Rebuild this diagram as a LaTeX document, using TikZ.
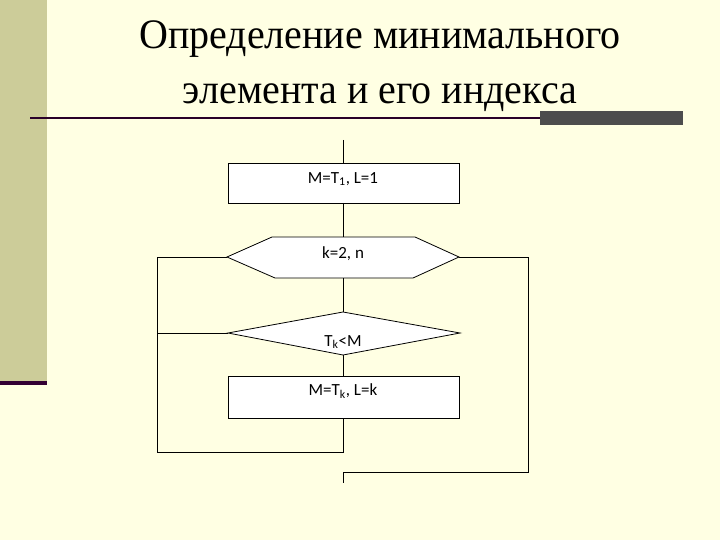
\documentclass[tikz,border=0pt]{standalone}
\usepackage{fontspec}
\setmainfont{Liberation Serif}
\newfontfamily\boxfont{Carlito}
\definecolor{bg}{HTML}{FFFFE3}
\definecolor{olive}{HTML}{CCCC99}
\definecolor{plum}{HTML}{330033}
\definecolor{bargrey}{HTML}{4D4D4D}
\begin{document}
\begin{tikzpicture}[x=1pt,y=-1pt,
  blk/.style={draw,fill=white,line width=0.8pt},
  lbl/.style={font=\boxfont\fontsize{17}{19}\selectfont},
  ln/.style={line width=0.8pt}]
\fill[bg] (0,0) rectangle (720,540);
\useasboundingbox (0,0) rectangle (720,540);
\fill[olive] (0,0) rectangle (47,382);
\fill[plum] (0,381) rectangle (47,385);
\fill[plum!80!black] (30,117) rectangle (540,119.5);
\fill[bargrey] (540,111) rectangle (683,125);
\node[font=\fontsize{40}{52}\selectfont,align=center,yscale=1.05] (title) at (380,66) {Определение минимального\\элемента и его индекса};
% flowchart
\coordinate (top) at (343,140);
\draw[blk] (228,163) rectangle (459,203);
\node[lbl] (b1) at (343,179) {M=T\textsubscript{1}, L=1};
\draw[blk] (227,257) -- (272,237) -- (415,237) -- (459,257) -- (413,278) -- (275,278) -- cycle;
\node[lbl] (hex) at (343,254) {k=2, n};
\draw[blk] (228,333) -- (343,312) -- (460,333) -- (343,355) -- cycle;
\node[lbl] (dia) at (343,342) {T\textsubscript{k}<M};
\draw[blk] (228,376) rectangle (459,418);
\node[lbl] (b2) at (343,391) {M=T\textsubscript{k}, L=k};
\draw[ln] (top) -- (343,163);
\draw[ln] (343,203) -- (343,237);
\draw[ln] (343,278) -- (343,312);
\draw[ln] (343,355) -- (343,376);
\draw[ln] (227,257) -- (157,257) -- (157,452) -- (343,452) -- (343,418);
\draw[ln] (228,333) -- (157,333);
\draw[ln] (459,257) -- (528,257) -- (528,472) -- (343,472) -- (343,483);
\end{tikzpicture}
\end{document}
